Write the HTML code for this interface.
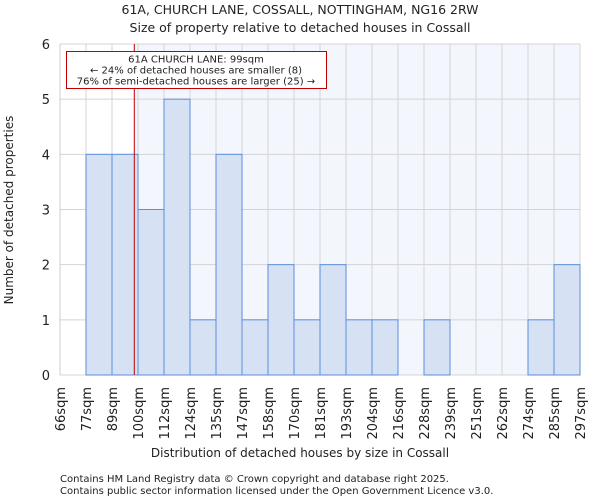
<!DOCTYPE html>
<html><head><meta charset="utf-8"><style>
body{margin:0;background:#fff;font-family:"DejaVu Sans","Liberation Sans",sans-serif;}
svg text{font-family:"DejaVu Sans","Liberation Sans",sans-serif;fill:#222;}
</style></head><body>
<svg id="chart" width="600" height="500">
<text x="300" y="14" text-anchor="middle" font-size="12.5">61A, CHURCH LANE, COSSALL, NOTTINGHAM, NG16 2RW</text>
<text x="300" y="32" text-anchor="middle" font-size="12.5">Size of property relative to detached houses in Cossall</text>
<g id="plot"></g>
<text x="300" y="457" text-anchor="middle" font-size="12">Distribution of detached houses by size in Cossall</text>
<text transform="translate(13,210) rotate(-90)" text-anchor="middle" font-size="12">Number of detached properties</text>
<text x="60" y="482" font-size="10" fill="#444">Contains HM Land Registry data © Crown copyright and database right 2025.</text>
<text x="60" y="494" font-size="10" fill="#444">Contains public sector information licensed under the Open Government Licence v3.0.</text>
</svg>
<script>
const binLabels=["66sqm","77sqm","89sqm","100sqm","112sqm","124sqm","135sqm","147sqm","158sqm","170sqm","181sqm","193sqm","204sqm","216sqm","228sqm","239sqm","251sqm","262sqm","274sqm","285sqm","297sqm"];
const counts=[0,4,4,3,5,1,4,1,2,1,2,1,1,0,1,0,0,0,1,2];
const yTicks=[0,1,2,3,4,5,6];
const propertySize=99;
const binStart=66, binStep=(297-66)/20;
const L=60,R=580,T=44,B=375,yMax=6;
const ns="http://www.w3.org/2000/svg";
const g=document.getElementById('plot');
const n=counts.length;
const xs=i=>L+(R-L)*i/n;
const xv=v=>L+(R-L)*(v-binStart)/(binStep*n);
const ys=v=>B-(B-T)*v/yMax;
function mk(t,a){const e=document.createElementNS(ns,t);for(const k in a)e.setAttribute(k,a[k]);g.appendChild(e);return e;}
const px=xv(propertySize);
let e=mk('rect',{x:L,y:T,width:R-L,height:B-T,fill:'#fff'});


e=mk('rect',{x:px,y:T,width:R-px,height:B-T,fill:'#f3f6fd'});


for(let i=0;i<=n;i++){e=mk('line',{x1:xs(i),x2:xs(i),y1:T,y2:B,stroke:'#d4d4d4','stroke-width':1});

}
yTicks.forEach(t=>{e=mk('line',{x1:L,x2:R,y1:ys(t),y2:ys(t),stroke:'#d4d4d4','stroke-width':1});


e=mk('text',{x:L-10,y:ys(t)+5,'text-anchor':'end','font-size':13});e.textContent=t;

});
counts.forEach((c,i)=>{if(c<=0)return;e=mk('rect',{x:xs(i),y:ys(c),width:xs(i+1)-xs(i),height:B-ys(c),fill:'#d6e2f4',stroke:'#5a8fdc','stroke-width':1});

});
binLabels.forEach((l,i)=>{const x=xs(i);e=mk('text',{transform:`translate(${x+5},387) rotate(-90)`,'text-anchor':'end','font-size':13});e.textContent=l;

});
e=mk('line',{x1:L,x2:L,y1:T,y2:B,stroke:'#ccc'});


e=mk('line',{x1:px,x2:px,y1:T,y2:B,stroke:'#c00000','stroke-width':1});


e=mk('rect',{x:66.5,y:51.5,width:260,height:37,fill:'#fff',stroke:'#c00000','stroke-width':1});


const ann=["61A CHURCH LANE: 99sqm","← 24% of detached houses are smaller (8)","76% of semi-detached houses are larger (25) →"];
ann.forEach((t,i)=>{e=mk('text',{x:196,y:62.5+i*11,'text-anchor':'middle','font-size':10});e.textContent=t;

});
</script>
</body></html>
